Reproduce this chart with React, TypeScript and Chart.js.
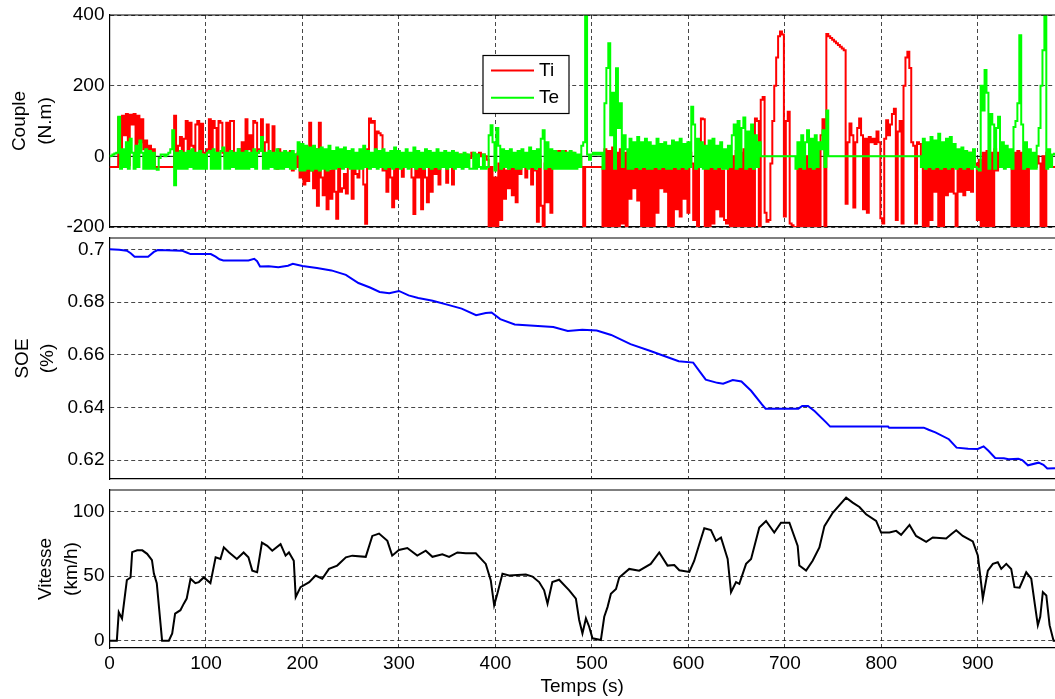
import React, { useEffect, useRef } from 'react';
import { Chart, registerables } from 'chart.js';

Chart.register(...registerables);

const FONT_FAMILY = '"Liberation Sans", Arial, Helvetica, sans-serif';

// ---- shared time axis ----
const X_MIN = 0;
const X_MAX = 980;
const timeTicks = [0, 100, 200, 300, 400, 500, 600, 700, 800, 900];

// ---- torque panel (sampled every 2 s) ----
const TORQUE_STEP = 2;
const torqueTicks = [-200, 0, 200, 400];
const tiValues = [
  -30, -30, -30, -30, -30, 110, -20, 115, 60, 120,
  -25, 118, 90, 120, -20, 115, 40, 105, 20, 45,
  10, 30, -5, 20, -30, -30, -30, -30, -30, -30,
  -30, -30, -30, -30, 115, 0, 30, 55, 10, 50,
  100, 15, 95, 30, 5, 90, 100, 10, 92, 10,
  0, 20, 105, 15, 100, 80, 5, 100, 95, 10,
  0, 95, 15, 100, 100, 5, 0, 20, 10, 40,
  10, 105, 20, 60, 5, 100, 95, 10, 20, 105,
  5, 40, 90, 10, -20, 85, 0, -35, 20, 10,
  5, -10, 10, 0, 15, -40, 5, -30, 10, -60,
  20, -80, 10, -70, 95, -40, -90, 20, -140, 95,
  -60, -110, 10, -150, -40, -120, -20, -100, -177, 10,
  -100, -90, -50, -105, 5, -30, -120, -10, -50, -60,
  -20, 10, -80, -191, 20, 107, 95, 100, -10, 70,
  65, 60, -40, -20, -100, -30, -60, -144, -20, -120,
  -20, 0, -58, -10, 0, -20, -30, -60, -163, -20,
  -60, -10, -150, -20, -60, -130, -30, -100, -10, -50,
  -5, -80, -20, -30, -5, -75, -20, 0, -80, -10,
  0, -30, 5, -15, 0, 5, 0, -5, 10, 0,
  5, 0, 10, 0, 5, 0, -10, -200, -30, -200,
  -60, -200, -20, -180, -10, -120, -40, -90, -20, -110,
  -10, -130, -20, -50, 0, -10, -60, 0, -20, -80,
  0, -40, -185, -10, -140, -200, -20, -130, 0, -160,
  -20, 10, 0, 15, 5, 10, 15, 0, 10, 5,
  10, -10, 0, -20, -5, -30, -200, -30, -30, -30,
  -30, -30, -30, -30, -30, -30, -200, 20, -200, 15,
  -200, 25, -200, 10, -200, 20, -190, 10, -200, 15,
  -120, 10, -90, 0, -125, 5, -200, 20, -200, 10,
  -200, 15, -200, 0, -160, 10, -90, 15, -100, 0,
  -200, 10, -200, 5, -150, 0, -170, 10, -120, 0,
  -160, 10, -20, -180, 0, -200, 10, 107, 105, -200,
  10, -200, 15, -190, 0, -150, -30, -170, -40, -180,
  -190, -20, -200, 0, -200, 15, -200, 10, -200, 20,
  -200, 10, -200, 15, -200, 107, 100, -200, 160, 168,
  -160, -185, -180, -20, 100, 200, 280, 340, 353, 345,
  -170, 100, 126, -190, -195, -200, -200, -30, -200, -20,
  -200, 0, -200, 10, -200, 20, -200, 15, -200, 60,
  105, -200, 346, 340, 335, 330, 325, 320, 315, 310,
  305, 300, -134, 40, 93, 60, -145, 40, 80, 107,
  60, -150, 50, -160, 55, 40, 50, 35, 70, 40,
  -175, -190, 50, 102, 60, 90, 120, 135, -180, 70,
  100, -190, 200, 280, 296, 250, 40, 30, -190, 40,
  35, 0, -200, 0, -200, 5, -180, 0, -100, 10,
  -200, 0, -200, 5, -110, 0, -100, 10, -105, -200,
  0, -100, 5, -110, 0, -95, 10, -100, 0, -20,
  -180, -10, -200, 10, -200, 15, -200, 10, -200, 20,
  -40, 10, -20, 15, -30, 10, 0, -30, -200, 10,
  -200, 15, -200, 10, -200, 20, -200, 0, -30, -10,
  -30, 0, -20, -200, 0, -200, 10, -30, -30, -30,
  -30,
];
const teValues = [
  0, 2, 5, 8, 10, 112, -35, 20, -30, 40,
  -35, 50, 10, -35, 30, -30, 45, 10, -35, 20,
  -35, 15, -35, 10, -35, -38, -5, 5, 5, 0,
  5, 10, 20, 74, -82, 10, -35, 15, -35, 10,
  -35, 15, -30, 20, -35, 10, -35, 15, -35, 5,
  -35, 10, 15, -35, 20, -35, 10, -35, 15, 25,
  -35, 10, -35, 15, -30, 10, -35, 20, -35, 10,
  -35, 15, -35, 10, -30, 20, -35, 10, 15, 55,
  -35, 10, -35, 15, -30, 10, -35, 20, -35, 10,
  -35, 15, -30, 10, -35, 15, -35, 5, 40, -40,
  35, -40, 30, -35, 25, -40, 30, -35, 20, -40,
  25, -35, 20, -40, 30, -35, 15, -35, 25, -30,
  20, -35, 25, -30, 15, -35, 20, -35, 10, -35,
  20, -35, 30, -30, 15, -35, 10, -30, 20, -35,
  15, -30, 20, -35, 10, -30, 15, -35, 25, -30,
  15, -35, 10, -30, 20, -35, 10, -30, 25, -35,
  15, -30, 10, -35, 20, -30, 15, -35, 10, -30,
  20, -35, 10, -30, 15, -35, 10, -30, 15, -35,
  10, -30, 5, -35, 10, -30, 5, -35, -35, 10,
  -35, 5, -30, -35, 5, -35, -30, 60, 88, 40,
  -40, 80, 30, -35, 20, -30, 15, -35, 20, -30,
  10, -35, 15, -35, 20, -30, 10, -35, 25, -30,
  15, -35, 20, -30, 50, 74, -35, 40, -30, 20,
  -35, 15, -35, 10, -35, 15, -35, 10, -35, 15,
  -35, 10, -35, 5, -30, 30, 40, 400, 5, -10,
  5, 10, 5, 10, 5, 10, -35, 150, 250, 320,
  60, 180, -35, 249, 80, 150, -30, 60, 20, -35,
  50, -35, 40, -30, 55, -35, 40, -30, 50, -35,
  40, -35, 30, -30, 50, -35, 35, -30, 40, -35,
  30, -35, 45, -30, 40, -35, 50, -30, 35, -35,
  40, -30, 140, 90, -35, 50, -30, 40, -35, 30,
  -35, 45, -30, 50, -35, 30, -30, 40, -35, 20,
  -35, 30, -30, 60, 90, -35, 100, -30, 80, 110,
  -35, 70, -30, 90, -35, 60, -30, 40, 0, 0,
  0, 0, 0, 0, 0, 0, 0, 0, 0, 0,
  0, 0, 0, 0, 0, 0, -35, 40, -30, 60,
  -35, 40, 74, -30, 50, -35, 60, -30, 40, 20,
  74, -30, 130, 0, 0, 0, 0, 0, 0, 0,
  0, 0, 0, 0, 0, 0, 0, 0, 0, 0,
  0, 0, 0, 0, 0, 0, 0, 0, 0, 0,
  0, 0, 0, 0, 0, 0, 0, 0, 0, 0,
  0, 0, 0, 0, 0, 0, 0, 0, 0, 0,
  0, -30, 50, -35, 40, -30, 55, -35, 45, -30,
  64, -35, 40, -30, 50, -35, 55, -30, 35, -35,
  20, -30, 25, -35, 15, -30, 10, -35, 20, -30,
  -35, -40, 200, 130, 244, 180, -35, 120, 90, -35,
  80, 112, -30, 40, -35, 30, -30, 20, -35, 83,
  100, 150, 343, 90, -35, 40, -30, 20, -35, 10,
  -35, 30, 80, 200, 300, 400, -35, 20, -30, 5,
  7,
];

// ---- state of energy panel ----
const soeTicks = [0.62, 0.64, 0.66, 0.68, 0.7];
const soeTime = [
  0, 10, 18, 22, 26, 40, 46, 50, 75, 80,
  84, 105, 110, 114, 118, 144, 150, 153, 156, 165,
  175, 185, 190, 200, 215, 230, 245, 258, 270, 280,
  290, 300, 310, 320, 335, 350, 365, 380, 390, 396,
  405, 420, 440, 460, 475, 490, 505, 520, 540, 560,
  575, 590, 605, 612, 618, 630, 636, 646, 655, 665,
  676, 680, 714, 718, 724, 731, 743, 747, 807, 808,
  844, 849, 856, 870, 878, 890, 900, 906, 911, 918,
  927, 932, 942, 946, 952, 963, 968, 972, 980,
];
const soeValues = [
  0.7, 0.6998, 0.6995, 0.6985, 0.6972, 0.6972, 0.699, 0.6997, 0.6995, 0.6988,
  0.6982, 0.6982, 0.6972, 0.6962, 0.6958, 0.6958, 0.6964, 0.6955, 0.6935, 0.6936,
  0.6932, 0.6938, 0.6945, 0.6937, 0.6929, 0.692, 0.6903, 0.6872, 0.6855, 0.6838,
  0.6833, 0.6842, 0.6825, 0.6815, 0.6805, 0.679, 0.6775, 0.675, 0.6758, 0.676,
  0.6735, 0.6715, 0.671, 0.6705, 0.669, 0.6695, 0.6692, 0.6675, 0.664, 0.6615,
  0.6595, 0.6575, 0.657, 0.6535, 0.6505, 0.6493, 0.649, 0.6504, 0.6498, 0.6463,
  0.6412, 0.6395, 0.6395, 0.6405, 0.6405, 0.6385, 0.6342, 0.6327, 0.6327, 0.6323,
  0.6323, 0.6315, 0.6305, 0.6279, 0.6247, 0.6243, 0.6242, 0.6252, 0.6235, 0.6208,
  0.6207, 0.6203, 0.6205, 0.62, 0.618, 0.619, 0.6182, 0.6168, 0.6169,
];

// ---- speed panel ----
const speedTicks = [0, 50, 100];
const speedTime = [
  0, 7.6, 9.6, 13, 18, 21.8, 23.5, 28.7, 34, 39,
  44, 46, 49, 52.8, 54.5, 61.5, 65, 68, 73.5, 77,
  80, 84, 89, 92.6, 97.7, 104.6, 110, 115, 118.5, 124,
  132, 139, 144, 148, 153, 158, 163.5, 168.7, 177.3, 182.5,
  186, 191, 193, 198, 207, 213.6, 220.5, 227.5, 236, 245,
  251.7, 265.6, 272.4, 279.4, 288, 293, 300, 308.7, 319, 327.8,
  334.7, 345, 352, 360.6, 369.3, 379.7, 390, 395.2, 398.7, 402,
  407.3, 414.2, 431.5, 438.4, 445.3, 450.5, 454, 459, 466, 476.5,
  483.4, 486.8, 490.2, 493.8, 497.2, 500.6, 509.3, 512.8, 516.2, 519.7,
  525, 528.3, 538.7, 549, 561, 569.8, 578.4, 585.4, 590.6, 601,
  606, 611.3, 616.5, 623.4, 628.6, 633.8, 640.7, 644.2, 649.4, 652.8,
  659.8, 665, 673.5, 680.5, 689, 696, 704.7, 713.3, 715, 722,
  728.8, 735.8, 741, 749.6, 763.5, 770.3, 777.3, 784.2, 794.6, 799.8,
  808.4, 815.4, 820.5, 829.2, 836, 846.5, 853.3, 867.2, 872.4, 877.6,
  884.4, 894.8, 900, 903.5, 905.2, 910.4, 915.6, 920.7, 924.3, 929.5,
  934.6, 938, 943.3, 950.2, 955.4, 959, 962.2, 964.7, 967.4, 971,
  974.4, 978.5, 980,
];
const speedValues = [
  0, 0, 22, 17, 47, 49, 68.6, 70, 70, 67.3,
  62.4, 52, 44.6, 13.8, 0, 0, 5.6, 21, 23.6, 28.7,
  32.6, 48, 44.6, 45.4, 49, 44.6, 64.6, 63.3, 72.3, 68.4,
  63.3, 68.4, 64.6, 54.3, 53, 76, 73.5, 69.7, 74.8, 65.9,
  68.4, 62, 33.8, 41.5, 45.4, 50.5, 48, 55.6, 58.2, 64.6,
  65.9, 65, 81.2, 83, 77.4, 65.9, 70.3, 71.8, 65.9, 69.7,
  65, 67, 65, 68.4, 67.7, 67.7, 59.5, 46.7, 27.4, 36.4,
  51.8, 50.5, 51.3, 49.7, 45.4, 39, 28.7, 45.4, 47.2, 39,
  32.6, 16, 5.6, 17.2, 10.8, 1.8, 0.5, 18.5, 26, 36.4,
  40, 49, 55.6, 54.3, 59.5, 68.4, 58.2, 58.7, 54.6, 53.3,
  61.8, 74.8, 87.2, 85.7, 77.4, 80, 63.3, 37.6, 45.4, 44,
  59.5, 63.3, 87.7, 92.8, 83.8, 91.5, 91.5, 73.5, 58.2, 54.3,
  62, 72.3, 88.8, 99.1, 110.9, 107, 103.6, 98, 92.8, 83.8,
  83.8, 85.1, 82, 89.7, 81.2, 76.6, 80, 79.2, 82.5, 85.6,
  81.2, 76.9, 66, 44, 32.6, 54.3, 59.5, 60.8, 55.6, 59.5,
  55.6, 41.5, 41, 53, 48, 28.7, 12, 18.5, 37.6, 35,
  12, 0, 0,
];

// ---- layout (pixels) ----
const WIDTH = 1055;
const PLOT_LEFT = 109.5;
const GRID_COLOR = 'rgba(0,0,0,0.72)';
const DASH = [4, 3];
const tickFont = { family: FONT_FAMILY, size: 19 };
const yTitleFont = { family: FONT_FAMILY, size: 19, lineHeight: 1.35 };

function xAxis(showLabels: boolean, height: number) {
  return {
    type: 'linear',
    min: X_MIN,
    max: X_MAX,
    afterBuildTicks: (s: any) => {
      s.ticks = timeTicks.map((v) => ({ value: v }));
    },
    afterFit: (s: any) => {
      s.height = height;
      s.paddingLeft = 0;
      s.paddingRight = 0;
    },
    grid: { color: GRID_COLOR, lineWidth: 1, drawTicks: false },
    border: { display: true, color: '#000', width: 1.2, dash: DASH },
    ticks: {
      display: showLabels,
      color: '#000',
      font: tickFont,
      padding: 4,
      maxRotation: 0,
      autoSkip: false,
      callback: (v: any) => String(v),
    },
    title: {
      display: showLabels,
      text: 'Temps (s)',
      color: '#000',
      font: { family: FONT_FAMILY, size: 19, lineHeight: 1.2 },
      padding: { top: 0, bottom: 1 },
    },
  };
}

function yAxis(min: number, max: number, ticks: number[], title: string[], titlePad: number) {
  return {
    type: 'linear',
    min,
    max,
    afterBuildTicks: (s: any) => {
      s.ticks = ticks.map((v) => ({ value: v }));
    },
    afterFit: (s: any) => {
      s.width = PLOT_LEFT;
      s.paddingTop = 0;
      s.paddingBottom = 0;
    },
    grid: { color: GRID_COLOR, lineWidth: 1, drawTicks: false },
    border: { display: true, color: '#000', width: 1.2, dash: DASH },
    ticks: { color: '#000', font: tickFont, padding: 5, callback: (v: any) => String(v) },
    title: {
      display: true,
      text: title,
      color: '#000',
      font: yTitleFont,
      padding: { top: titlePad, bottom: 0 },
    },
  };
}

const topFramePlugin = {
  id: 'topFrame',
  afterDatasetsDraw(chart: any) {
    const { ctx, chartArea: a } = chart;
    ctx.save();
    ctx.setLineDash([]);
    ctx.strokeStyle = '#000';
    ctx.lineWidth = 1.2;
    ctx.beginPath();
    ctx.moveTo(a.left, a.top);
    ctx.lineTo(a.right, a.top);
    ctx.stroke();
    ctx.restore();
  },
};

const zeroLinePlugin = {
  id: 'zeroLine',
  beforeDatasetsDraw(chart: any) {
    const { ctx, chartArea: a, scales } = chart;
    const y = scales.y.getPixelForValue(0);
    ctx.save();
    ctx.setLineDash([]);
    ctx.strokeStyle = '#000';
    ctx.lineWidth = 1;
    ctx.beginPath();
    ctx.moveTo(a.left, y);
    ctx.lineTo(a.right, y);
    ctx.stroke();
    ctx.restore();
  },
};

const boxLegendPlugin = {
  id: 'boxLegend',
  afterDraw(chart: any) {
    const { ctx } = chart;
    const bx = 483;
    const by = 55.5;
    const bw = 86;
    const bh = 58;
    ctx.save();
    ctx.setLineDash([]);
    ctx.fillStyle = '#fff';
    ctx.fillRect(bx, by, bw, bh);
    ctx.strokeStyle = '#000';
    ctx.lineWidth = 1.2;
    ctx.strokeRect(bx, by, bw, bh);
    const rows = [70.5, 97.7];
    chart.data.datasets.forEach((ds: any, i: number) => {
      const y = rows[i];
      ctx.strokeStyle = ds.borderColor;
      ctx.lineWidth = 2;
      ctx.beginPath();
      ctx.moveTo(491, y);
      ctx.lineTo(534, y);
      ctx.stroke();
      ctx.fillStyle = '#000';
      ctx.font = `19px ${FONT_FAMILY}`;
      ctx.textAlign = 'left';
      ctx.textBaseline = 'middle';
      ctx.fillText(ds.label, 539, y + 0.5);
    });
    ctx.restore();
  },
};

function baseOptions(padTop: number, x: any, y: any) {
  return {
    responsive: false,
    animation: false,
    layout: { padding: { top: padTop, left: 0, right: 0, bottom: 0 } },
    plugins: { legend: { display: false }, tooltip: { enabled: false } },
    elements: { point: { radius: 0 }, line: { tension: 0 } },
    scales: { x, y },
  };
}

export default function App() {
  const torqueRef = useRef<HTMLCanvasElement | null>(null);
  const soeRef = useRef<HTMLCanvasElement | null>(null);
  const speedRef = useRef<HTMLCanvasElement | null>(null);

  useEffect(() => {
    document.body.style.margin = '0';
    const torqueTime = tiValues.map((_, i) => i * TORQUE_STEP);

    const torque = new Chart(torqueRef.current as HTMLCanvasElement, {
      type: 'line',
      data: {
        datasets: [
          {
            label: 'Ti',
            data: tiValues.map((v, i) => ({ x: torqueTime[i], y: v })),
            borderColor: '#ff0000',
            borderWidth: 2,
            pointRadius: 0,
            stepped: 'middle',
            order: 1,
          },
          {
            label: 'Te',
            data: teValues.map((v, i) => ({ x: torqueTime[i], y: v })),
            borderColor: '#00ff00',
            borderWidth: 2,
            pointRadius: 0,
            stepped: 'middle',
            order: 0,
          },
        ],
      },
      options: baseOptions(
        15,
        xAxis(false, 13),
        yAxis(-200, 400, torqueTicks, ['Couple', '(N.m)'], 7.2),
      ) as any,
      plugins: [zeroLinePlugin, topFramePlugin, boxLegendPlugin],
    });

    const soe = new Chart(soeRef.current as HTMLCanvasElement, {
      type: 'line',
      data: {
        datasets: [
          {
            label: 'SOE',
            data: soeValues.map((v, i) => ({ x: soeTime[i], y: v })),
            borderColor: '#0000ff',
            borderWidth: 2,
            pointRadius: 0,
          },
        ],
      },
      options: baseOptions(
        15,
        xAxis(false, 13),
        yAxis(0.6128, 0.7043, soeTicks, ['SOE', '(%)'], 9.7),
      ) as any,
      plugins: [topFramePlugin],
    });

    const speed = new Chart(speedRef.current as HTMLCanvasElement, {
      type: 'line',
      data: {
        datasets: [
          {
            label: 'Vitesse',
            data: speedValues.map((v, i) => ({ x: speedTime[i], y: v })),
            borderColor: '#000000',
            borderWidth: 2,
            pointRadius: 0,
          },
        ],
      },
      options: baseOptions(
        15,
        xAxis(true, 51),
        yAxis(-5.7, 116.8, speedTicks, ['Vitesse', '(km/h)'], 33.2),
      ) as any,
      plugins: [topFramePlugin],
    });

    return () => {
      torque.destroy();
      soe.destroy();
      speed.destroy();
    };
  }, []);

  const canvasStyle = (top: number): React.CSSProperties => ({
    position: 'absolute',
    left: 0,
    top,
    display: 'block',
  });

  return (
    <div style={{ position: 'absolute', left: 0, top: 0, width: WIDTH, height: 699, background: '#fff', overflow: 'hidden' }}>
      <canvas ref={torqueRef} width={WIDTH} height={240} style={canvasStyle(0)} />
      <canvas ref={soeRef} width={WIDTH} height={269} style={canvasStyle(223)} />
      <canvas ref={speedRef} width={WIDTH} height={224} style={canvasStyle(475)} />
    </div>
  );
}
